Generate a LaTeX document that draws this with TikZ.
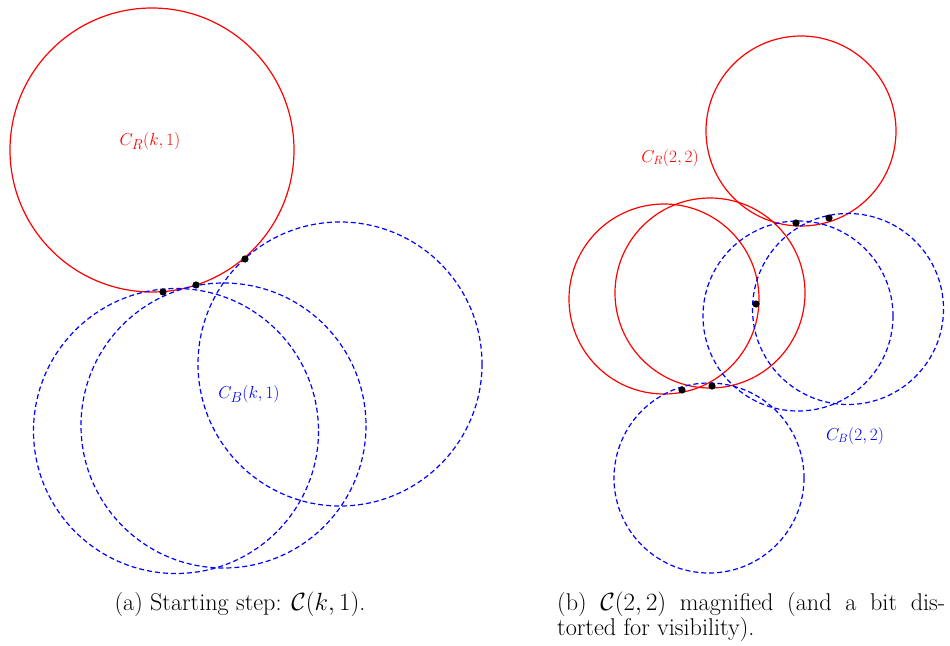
\documentclass[tikz,border=0pt]{standalone}
\usepackage{amsmath,amssymb}
\usetikzlibrary{positioning}

\begin{document}
\begin{tikzpicture}[x=1pt,y=-1pt,
    redcirc/.style={red,line width=1.2pt},
    bluecirc/.style={blue,line width=1.2pt,dash pattern=on 5pt off 3pt},
    lbl/.style={font=\fontsize{19}{23}\selectfont},
    smalllbl/.style={font=\fontsize{16.5}{20}\selectfont},
    capt/.style={font=\fontsize{24.2}{25}\selectfont}]
    \useasboundingbox (0,0) rectangle (950,645);

    % (a) Starting step
    \draw[redcirc] (152,150) circle (142);
    \draw[bluecirc] (176,431) circle (142.5);
    \draw[bluecirc] (223.5,425.5) circle (142.5);
    \draw[bluecirc] (340,364) circle (142);

    % Points of the starting step
    \fill (163,292) circle (3.6) coordinate (a1);
    \fill (196,285) circle (3.6) coordinate (a2);
    \fill (245,259) circle (3.6) coordinate (a3);

    \node[lbl,red] (crk) at (150,141) {$C_R(k,1)$};
    \node[lbl,blue] (cbk) at (249,394) {$C_B(k,1)$};

    % (b) Magnified step
    \draw[redcirc] (801,131) circle (95);
    \draw[redcirc] (664,299) circle (95);
    \draw[redcirc] (710,293) circle (95);
    \draw[bluecirc] (709,478) circle (95);
    \draw[bluecirc] (798,316) circle (95);
    \draw[bluecirc] (848,309) circle (95.5);

    % Points of the magnified step
    \fill (796,223) circle (3.6) coordinate (b1);
    \fill (829,218) circle (3.6) coordinate (b2);
    \fill (756,304) circle (3.6) coordinate (b3);
    \fill (682,390) circle (3.6) coordinate (b4);
    \fill (712,386) circle (3.6) coordinate (b5);

    \node[smalllbl,red] (cr22) at (670,158) {$C_R(2,2)$};
    \node[smalllbl,blue] (cb22) at (855,436) {$C_B(2,2)$};

    % Captions
    \node[capt] (capa) at (240,604) {(a) Starting step: $\mathcal{C}(k,1)$.};
    \node[capt,anchor=north west,text width=388pt,align=justify,inner sep=0pt] (capb) at (557,592)
        {(b) $\mathcal{C}(2,2)$ magnified (and a bit dis-\linebreak{}torted for visibility).};
\end{tikzpicture}
\end{document}
